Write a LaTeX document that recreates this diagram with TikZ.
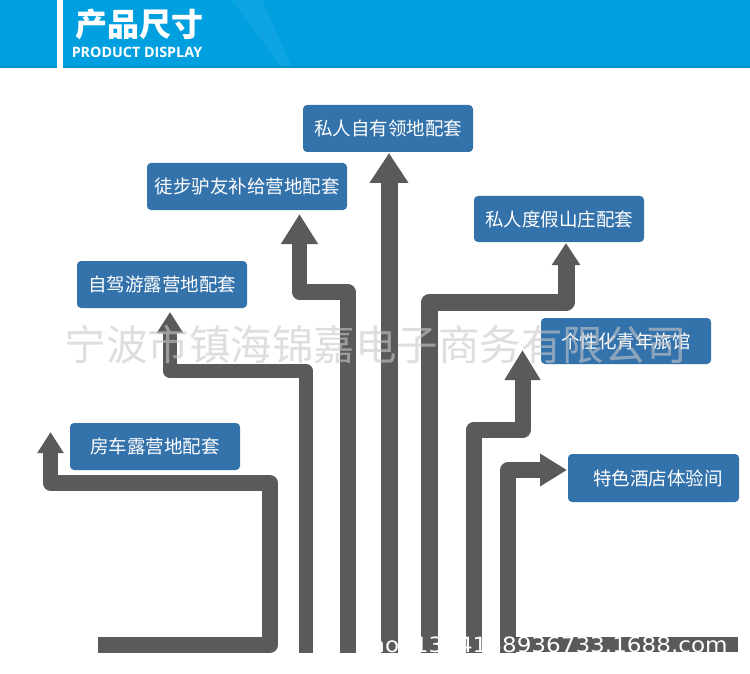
\documentclass[tikz,border=0pt]{standalone}
\usepackage{fontspec}
\usetikzlibrary{arrows.meta}
\newfontfamily\cjk{Noto Sans CJK SC}
\newfontfamily\osans{Open Sans}
\newfontfamily\dejav{DejaVu Sans}
\definecolor{headblue}{RGB}{0,160,224}
\definecolor{boxblue}{RGB}{52,114,171}
\definecolor{arrgray}{RGB}{90,90,90}
\definecolor{wmgray}{RGB}{200,200,200}
\tikzset{
  labelbox/.style={rectangle, rounded corners=4pt, fill=boxblue, text=white,
    inner sep=0pt, font=\cjk\fontsize{18.5}{20}\selectfont},
  flow/.style={draw=arrgray, line width=15.5pt, line join=round, line cap=butt},
}
\begin{document}
\begin{tikzpicture}[x=1pt,y=-1pt]
\useasboundingbox (0,0) rectangle (750,674);
\fill[white] (0,0) rectangle (750,674);
% header
\fill[headblue] (0,0) rectangle (750,68);
\fill[white,opacity=0.05] (232,0) -- (262,0) -- (292,68) -- (282,68) -- cycle;
\fill[black!10!headblue] (0,66) rectangle (750,68);
\fill[white] (57,0) rectangle (63,68);
\node[text=white, font=\cjk\bfseries\fontsize{32}{34}\selectfont, inner sep=0pt] (title) at (139,24) {产品尺寸};
\node[text=white, font=\osans\bfseries\fontsize{14.3}{16}\selectfont, inner sep=0pt] (subtitle) at (137,52) {PRODUCT DISPLAY};

% boxes
\node[labelbox, minimum width=170pt, minimum height=47pt] (b1) at (388,128.5) {私人自有领地配套};
\node[labelbox, minimum width=200pt, minimum height=47pt] (b2) at (247,186.5) {徒步驴友补给营地配套};
\node[labelbox, minimum width=170pt, minimum height=46pt] (b3) at (559,219) {私人度假山庄配套};
\node[labelbox, minimum width=170pt, minimum height=47pt] (b4) at (162,284.5) {自驾游露营地配套};
\node[labelbox, minimum width=170pt, minimum height=46pt] (b5) at (626,341) {个性化青年旅馆};
\node[labelbox, minimum width=170pt, minimum height=47pt] (b6) at (155,446.5) {房车露营地配套};
\node[labelbox, minimum width=171pt, minimum height=48pt] (b7) at (653.5,478) {\hspace*{9pt}特色酒店体验间};

% connector coordinates
\coordinate (a0) at (98,645);   \coordinate (a1) at (270,645);
\coordinate (a2) at (270,483);  \coordinate (a3) at (50.5,483);
\coordinate (a4) at (50.5,432);
\coordinate (c0) at (306,653);  \coordinate (c1) at (306,371);
\coordinate (c2) at (170,371);  \coordinate (c3) at (170,312);
\coordinate (d0) at (348,653);  \coordinate (d1) at (348,292);
\coordinate (d2) at (299.5,292);\coordinate (d3) at (299.5,214);
\coordinate (e0) at (389,653);  \coordinate (e1) at (389,153);
\coordinate (f0) at (429.5,653);\coordinate (f1) at (429.5,302);
\coordinate (f2) at (566,302);  \coordinate (f3) at (566,243);
\coordinate (g0) at (473.5,653);\coordinate (g1) at (473.5,430);
\coordinate (g2) at (522.5,430);\coordinate (g3) at (522.5,350);
\coordinate (h0) at (508,653);  \coordinate (h1) at (508,470);
\coordinate (h2) at (567,470);

\draw[flow, -{Triangle[length=21pt,width=25pt]}] (a0) -- (a1) -- (a2) -- (a3) -- (a4);
\draw[flow, line width=14.5pt, -{Triangle[length=21pt,width=25pt]}] (c0) -- (c1) -- (c2) -- (c3);
\draw[flow, -{Triangle[length=30pt,width=35pt]}] (d0) -- (d1) -- (d2) -- (d3);
\draw[flow, line width=17pt, -{Triangle[length=30pt,width=37pt]}] (e0) -- (e1);
\draw[flow, line width=17pt, -{Triangle[length=22pt,width=27pt]}] (f0) -- (f1) -- (f2) -- (f3);
\draw[flow, line width=16pt, -{Triangle[length=30pt,width=34pt]}] (g0) -- (g1) -- (g2) -- (g3);
\draw[flow, -{Triangle[length=27pt,width=31pt]}] (h0) -- (h1) -- (h2);

% bottom bar under url
\fill[arrgray] (500,637) rectangle (738,652);

% watermark
\node[text=wmgray, opacity=0.6, font=\cjk\fontsize{41.5}{44}\selectfont, inner sep=0pt] (wm) at (376,345) {宁波市镇海锦嘉电子商务有限公司};
\node[text=white, font=\dejav\fontsize{21}{22}\selectfont, inner sep=0pt, anchor=base east, xscale=1.1, transform shape] (url) at (728,652) {shop1384188936733.1688.com};
\end{tikzpicture}
\end{document}
